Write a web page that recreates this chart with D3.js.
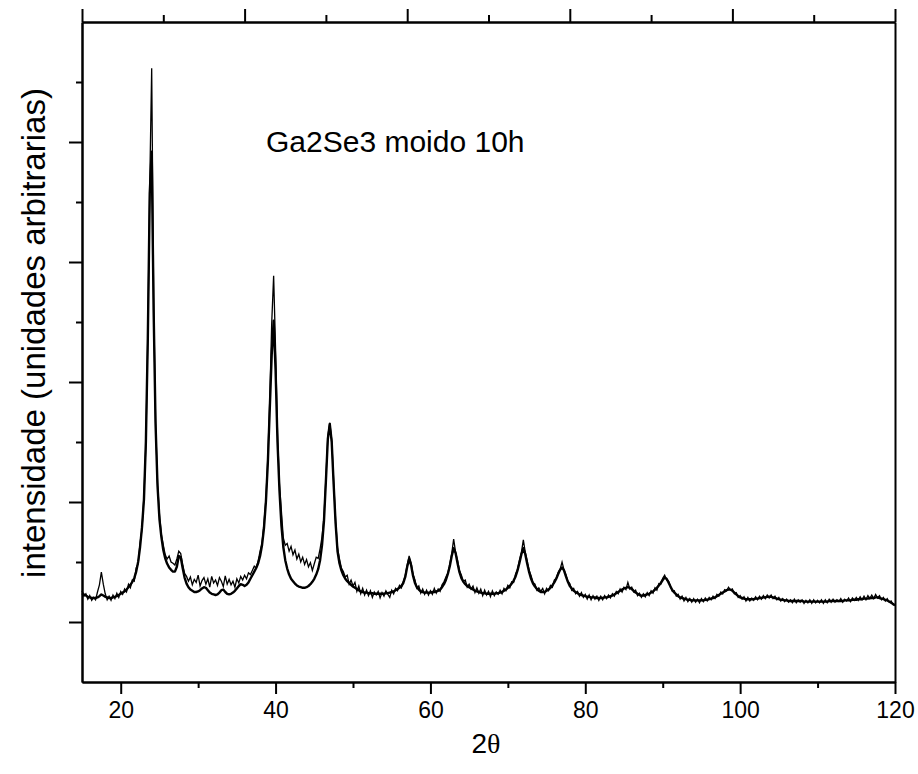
<!DOCTYPE html>
<html>
<head>
<meta charset="utf-8">
<script src="https://cdn.jsdelivr.net/npm/d3@7/dist/d3.min.js"></script>
<style>
  body { margin: 0; background: #fff; }
  svg { display: block; }
</style>
</head>
<body>
<div id="chart-area"></div>
<script>
// 2theta grid, one point every 0.25 degree from 15 to 120
const twoTheta = d3.range(0, 421).map(i => 15 + i * 0.25)

// measured pattern (noisy), 4 values per degree
const measured = [
  152,143,147,138, 144,136,141,137, 150,162,183,163, 147,137,143,136, 145,139,148,141, // 15-19
  151,146,155,150, 163,157,170,168, 190,197,232,255, 310,398,580,830, 1023,640,435,333, // 20-24
  280,246,228,212, 205,210,200,198, 195,205,218,214, 196,181,176,168, 175,162,171,166, // 25-29
  178,160,169,174, 163,172,158,176, 165,170,161,174, 168,159,177,163, 171,162,168,158, // 30-34
  172,165,176,170, 178,172,182,179, 186,193,190,202, 218,232,264,305, 375,470,598,677, // 35-39
  555,415,330,285, 240,228,231,218, 226,212,220,205, 213,200,208,196, 204,192,199,186, // 40-44
  197,208,206,222, 242,275,340,410, 432,404,335,270, 224,205,190,184, 175,178,163,170, // 45-49
  160,166,151,160, 147,156,145,153, 144,152,141,150, 145,151,140,149, 143,152,146,141, // 50-54
  153,147,156,152, 161,157,168,178, 195,210,199,180, 170,156,160,148, 155,146,153,145, // 55-59
  152,146,156,148, 155,151,162,167, 175,182,197,214, 238,216,203,186, 178,168,170,158, // 60-64
  163,155,160,149, 157,148,155,144, 153,145,151,142, 152,144,150,146, 153,147,156,152, // 65-69
  161,157,167,166, 180,188,203,216, 237,216,202,186, 177,166,163,153, 157,151,156,147, // 70-74
  156,152,161,158, 170,173,183,188, 200,187,179,168, 164,153,156,147, 151,143,149,141, // 75-79
  146,138,145,137, 144,138,143,136, 143,137,144,139, 145,140,147,143, 151,147,155,150, // 80-84
  158,154,166,155, 158,150,153,144, 148,141,147,142, 149,144,152,148, 157,153,164,163, // 85-89
  173,178,170,168, 160,151,152,143, 146,138,143,135, 141,134,139,133, 139,133,138,132, // 90-94
  139,134,140,135, 141,137,143,139, 146,143,150,147, 154,152,158,153, 155,147,149,141, // 95-99
  144,138,142,135, 141,135,140,136, 142,137,143,138, 144,139,145,140, 145,139,143,137, // 100-104
  141,135,139,134, 138,133,137,132, 138,132,137,133, 137,131,136,132, 137,131,137,132, // 105-109
  136,132,137,131, 137,132,138,133, 138,133,137,134, 139,133,138,135, 140,134,140,136, // 110-114
  141,136,142,137, 143,137,144,139, 145,139,146,140, 144,137,141,135, 139,133,135,129, // 115-119
  128
]

// fitted profile (smooth), same grid
const fitted = [
  148,146,144,142, 141,140,140,140, 141,143,146,144, 142,141,140,140, 141,142,143,145, // 15-19
  147,149,151,154, 158,162,167,173, 184,200,225,258, 304,400,573,815, 884,620,430,328, // 20-24
  272,242,220,206, 197,191,187,184, 184,192,210,208, 190,174,164,158, 154,152,150,150, // 25-29
  151,153,156,158, 157,153,149,147, 146,145,146,149, 153,154,150,147, 146,147,149,152, // 30-34
  156,160,163,162, 160,162,166,172, 178,184,190,198, 210,228,256,300, 365,455,545,602, // 35-39
  520,400,320,262, 225,203,189,179, 172,168,164,161, 159,158,157,157, 158,160,163,167, // 40-44
  172,179,188,203, 228,268,335,405, 430,400,330,265, 218,198,186,178, 172,168,165,162, // 45-49
  159,157,155,153, 151,150,149,149, 148,148,148,147, 147,147,147,147, 147,148,148,149, // 50-54
  150,151,153,155, 157,160,165,175, 192,205,195,177, 165,158,154,151, 150,149,149,149, // 55-59
  149,150,150,151, 152,154,158,163, 170,180,193,210, 223,215,198,183, 173,167,163,160, // 60-64
  158,156,154,152, 151,150,149,148, 148,147,147,147, 147,147,148,148, 149,150,152,154, // 65-69
  157,160,164,169, 176,186,199,213, 223,213,197,183, 172,164,159,155, 152,150,150,150, // 70-74
  152,154,157,161, 166,172,180,187, 191,186,176,167, 160,156,152,150, 148,146,145,144, // 75-79
  143,142,142,141, 141,141,140,140, 140,140,141,141, 142,143,144,146, 148,150,152,154, // 80-84
  156,157,158,157, 155,152,149,147, 145,144,144,145, 146,147,149,151, 154,157,161,165, // 85-89
  170,174,172,166, 159,153,149,146, 143,141,140,139, 138,137,137,136, 136,136,136,136, // 90-94
  136,136,137,137, 138,139,140,141, 143,145,147,149, 151,153,154,154, 152,149,146,143, // 95-99
  141,140,139,138, 138,138,138,138, 139,139,140,140, 141,141,142,142, 142,141,140,139, // 100-104
  138,137,137,136, 136,135,135,135, 135,135,135,135, 135,134,134,134, 134,134,134,134, // 105-109
  134,134,134,134, 134,134,135,135, 135,135,135,135, 135,135,136,136, 136,136,137,137, // 110-114
  137,138,138,138, 139,139,139,140, 140,140,141,141, 140,139,138,137, 136,134,132,130, // 115-119
  128
]

const xMajor = [20, 40, 60, 80, 100, 120]
const xMinor = [30, 50, 70, 90, 110]
const yMajor = [100, 300, 500, 700, 900]
const yMinor = [200, 400, 600, 800, 1000]
const topMajor = [0, 2, 4, 6, 8, 10]
const topMinor = [1, 3, 5, 7, 9]

const w = 918
const h = 774
const plotLeft = 82, plotRight = 895, plotTop = 22, plotBottom = 682
const font = "'Liberation Sans', Arial, sans-serif"

const svg = d3.select('#chart-area')
  .append("svg")
  .attr("width", w)
  .attr("height", h)

svg.append("rect").attr("width", w).attr("height", h).attr("fill", "#fff")

const x = d3.scaleLinear().domain([15, 120]).range([plotLeft, plotRight])
const xTop = d3.scaleLinear().domain([0, 10]).range([plotLeft, plotRight])
const y = d3.scaleLinear().domain([0, 1100]).range([plotBottom, plotTop])

function styleAxis(g) {
  g.selectAll("path").attr("stroke", "#000").attr("stroke-width", 2)
  g.selectAll("line").attr("stroke", "#000").attr("stroke-width", 2)
  g.selectAll("text").attr("fill", "#000").style("font-family", font).style("font-size", "23px")
}

// bottom axis
svg.append("g")
  .attr("transform", `translate(0,${plotBottom})`)
  .call(d3.axisBottom(x).tickValues(xMajor).tickSize(12).tickSizeOuter(0).tickPadding(8))
  .call(styleAxis)
svg.append("g")
  .attr("transform", `translate(0,${plotBottom})`)
  .call(d3.axisBottom(x).tickValues(xMinor).tickSize(6).tickSizeOuter(0).tickFormat(""))
  .call(styleAxis)

// top axis
svg.append("g")
  .attr("transform", `translate(0,${plotTop})`)
  .call(d3.axisTop(xTop).tickValues(topMajor).tickSize(13).tickSizeOuter(0).tickFormat(""))
  .call(styleAxis)
svg.append("g")
  .attr("transform", `translate(0,${plotTop})`)
  .call(d3.axisTop(xTop).tickValues(topMinor).tickSize(7).tickSizeOuter(0).tickFormat(""))
  .call(styleAxis)

// left axis
svg.append("g")
  .attr("transform", `translate(${plotLeft},0)`)
  .call(d3.axisLeft(y).tickValues(yMajor).tickSize(13).tickSizeOuter(0).tickFormat(""))
  .call(styleAxis)
svg.append("g")
  .attr("transform", `translate(${plotLeft},0)`)
  .call(d3.axisLeft(y).tickValues(yMinor).tickSize(6).tickSizeOuter(0).tickFormat(""))
  .call(styleAxis)

// right edge
svg.append("g")
  .attr("transform", `translate(${plotRight},0)`)
  .call(d3.axisRight(y).tickValues([]).tickSizeOuter(0))
  .call(styleAxis)

const line = d3.line()
  .x((d, i) => x(twoTheta[i]))
  .y(d => y(d))

svg.append("path")
  .datum(fitted)
  .attr("d", line)
  .attr("fill", "none")
  .attr("stroke", "#000")
  .attr("stroke-width", 2.4)
  .attr("stroke-linejoin", "round")

svg.append("path")
  .datum(measured)
  .attr("d", line)
  .attr("fill", "none")
  .attr("stroke", "#000")
  .attr("stroke-width", 1.3)

svg.append("text")
  .attr("x", 266)
  .attr("y", 152)
  .style("font-family", font)
  .style("font-size", "30px")
  .text("Ga2Se3 moido 10h")

svg.append("text")
  .attr("transform", `translate(45,333) rotate(-90)`)
  .attr("text-anchor", "middle")
  .style("font-family", font)
  .style("font-size", "33px")
  .text("intensidade (unidades arbitrarias)")

const xl = svg.append("text")
  .attr("x", 486)
  .attr("y", 753)
  .attr("text-anchor", "middle")
  .style("font-family", font)
  .style("font-size", "28px")
xl.append("tspan").text("2")
xl.append("tspan").style("font-family", "'Liberation Serif', 'DejaVu Serif', serif").text("θ")
</script>
</body>
</html>
